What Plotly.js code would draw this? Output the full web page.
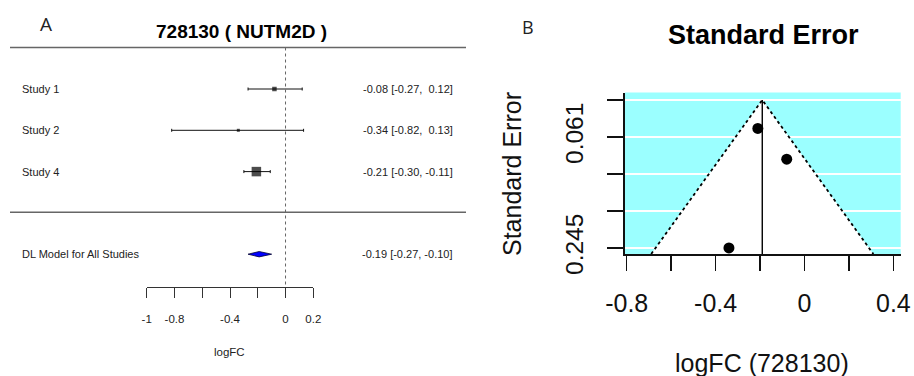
<!DOCTYPE html>
<html>
<head>
<meta charset="utf-8">
<script src="https://cdn.plot.ly/plotly-3.0.1.min.js"></script>
<style>html,body{margin:0;padding:0;background:#fff;}#chart{width:914px;height:376px;}</style>
</head>
<body>
<div id="chart"></div>
<script>
// ---- data ----
const studies = ['Study 1', 'Study 2', 'Study 4'];
const est = [-0.08, -0.34, -0.21];
const ciLo = [-0.27, -0.82, -0.30];
const ciHi = [0.12, 0.13, -0.11];
const seVals = [0.098, 0.245, 0.047];
const modelLabel = 'DL Model for All Studies';
const modelEst = -0.19;
const modelLo = -0.27;
const modelHi = -0.10;
const forestTicks = [-1, -0.8, -0.6, -0.4, -0.2, 0, 0.2];
const forestTickText = ['-1', '-0.8', '', '-0.4', '', '0', '0.2'];
const funnelXTicks = [-0.8, -0.6, -0.4, -0.2, 0, 0.2, 0.4];
const funnelXTickText = ['-0.8', '', '-0.4', '', '0', '', '0.4'];
const funnelYTickText = ['', '0.061', '', '', '0.245'];
const geneTitle = '728130 ( NUTM2D )';
const funnelTitle = 'Standard Error';
const funnelXTitle = 'logFC (728130)';
const funnelYTitle = 'Standard Error';
const forestXTitle = 'logFC';

// ---- helpers ----
const W = 914, H = 376;
const px = x => x / W;
const py = y => 1 - y / H;
const f2 = v => v.toFixed(2);
const pad = v => (v >= 0 ? '\u00a0' : '') + f2(v);
const ciText = (e, l, h) => f2(e) + ' [' + pad(l) + ',\u00a0' + pad(h) + ']';

const rows = studies.map((s, i) => i + 1);
const modelRow = studies.length + 2;

const FONT = 'Liberation Sans, Arial, sans-serif';

// funnel scale
const maxSE = Math.max(...seVals);
const funnelYTicks = [0, 1, 2, 3, 4].map(i => maxSE * i / 4);
const seBottom = 0.2550;
const seTop = -0.0124;

const traces = [];

// forest: study CIs
traces.push({
  type: 'scatter', mode: 'markers', xaxis: 'x', yaxis: 'y',
  x: est, y: rows,
  error_x: {
    type: 'data', symmetric: false,
    array: est.map((e, i) => ciHi[i] - e),
    arrayminus: est.map((e, i) => e - ciLo[i]),
    color: '#111', thickness: 1, width: 1.5
  },
  marker: {symbol: 'square', color: '#000', size: [4.5, 3, 9.5], line: {width: 0}},
  cliponaxis: false, hoverinfo: 'skip'
});
// forest: diamond
const dh = 0.065;
traces.push({
  type: 'scatter', mode: 'lines', xaxis: 'x', yaxis: 'y',
  x: [modelLo, modelEst, modelHi, modelEst, modelLo],
  y: [modelRow, modelRow - dh, modelRow, modelRow + dh, modelRow],
  fill: 'toself', fillcolor: '#0000ff',
  line: {color: '#000033', width: 0.8}, hoverinfo: 'skip'
});

// funnel: white triangle
const halfW = 1.96 * seBottom;
traces.push({
  type: 'scatter', mode: 'lines', xaxis: 'x2', yaxis: 'y2',
  x: [modelEst - halfW, modelEst, modelEst + halfW, modelEst - halfW],
  y: [seBottom, 0, seBottom, seBottom],
  fill: 'toself', fillcolor: '#ffffff', line: {width: 0}, hoverinfo: 'skip'
});
// funnel: dotted edges
traces.push({
  type: 'scatter', mode: 'lines', xaxis: 'x2', yaxis: 'y2',
  x: [modelEst - halfW, modelEst, modelEst + halfW],
  y: [seBottom, 0, seBottom],
  line: {color: '#000', width: 1.8, dash: 'dot'}, hoverinfo: 'skip'
});
// funnel: vertical estimate line
traces.push({
  type: 'scatter', mode: 'lines', xaxis: 'x2', yaxis: 'y2',
  x: [modelEst, modelEst], y: [0, seBottom],
  line: {color: '#000', width: 1.4}, hoverinfo: 'skip'
});
// funnel: points
traces.push({
  type: 'scatter', mode: 'markers', xaxis: 'x2', yaxis: 'y2',
  x: est, y: seVals,
  marker: {symbol: 'circle', color: '#000', size: 11},
  cliponaxis: false, hoverinfo: 'skip'
});

const annotations = [];
const ann = (text, x, y, opts) => annotations.push(Object.assign({
  text: text, x: px(x), y: py(y), xref: 'paper', yref: 'paper',
  showarrow: false, xanchor: 'center', yanchor: 'middle',
  font: {family: FONT, size: 11, color: '#222'}
}, opts || {}));

ann('A', 46, 24, {font: {family: 'Open Sans, sans-serif', size: 19, color: '#222'}});
ann('B', 527.7, 27, {font: {family: 'Open Sans, sans-serif', size: 18, color: '#222'}});
ann('<b>' + geneTitle + '</b>', 241, 31.5, {font: {family: FONT, size: 19, color: '#000'}});
ann('<b>' + funnelTitle + '</b>', 763, 34.5, {font: {family: FONT, size: 27, color: '#000'}});
ann(funnelXTitle, 762, 362.5, {font: {family: FONT, size: 25, color: '#111'}});
ann(funnelYTitle, 512, 174, {textangle: -90, font: {family: FONT, size: 25, color: '#111'}});
ann(forestXTitle, 230, 352, {font: {family: FONT, size: 11.5, color: '#222'}});

studies.forEach((s, i) => {
  annotations.push({text: s, x: px(20), y: rows[i], xref: 'paper', yref: 'y',
    xanchor: 'left', yanchor: 'middle', showarrow: false,
    font: {family: FONT, size: 11, color: '#222'}});
  annotations.push({text: ciText(est[i], ciLo[i], ciHi[i]), x: px(455), y: rows[i],
    xref: 'paper', yref: 'y', xanchor: 'right', yanchor: 'middle', showarrow: false,
    font: {family: FONT, size: 11, color: '#222'}});
});
annotations.push({text: modelLabel, x: px(20), y: modelRow, xref: 'paper', yref: 'y',
  xanchor: 'left', yanchor: 'middle', showarrow: false,
  font: {family: FONT, size: 11, color: '#222'}});
annotations.push({text: ciText(modelEst, modelLo, modelHi), x: px(455), y: modelRow,
  xref: 'paper', yref: 'y', xanchor: 'right', yanchor: 'middle', showarrow: false,
  font: {family: FONT, size: 11, color: '#222'}});

const shapes = [
  // cyan funnel background
  {type: 'rect', xref: 'x2 domain', yref: 'y2 domain', x0: 0, x1: 1, y0: 0, y1: 1,
   fillcolor: '#9bffff', line: {width: 0}, layer: 'below'},
  // forest rules
  {type: 'line', xref: 'paper', yref: 'paper', x0: px(10), x1: px(466), y0: py(47.5), y1: py(47.5),
   line: {color: '#666', width: 1.4}},
  {type: 'line', xref: 'paper', yref: 'paper', x0: px(10), x1: px(466), y0: py(212.3), y1: py(212.3),
   line: {color: '#666', width: 1.4}},
  // forest null line
  {type: 'line', xref: 'x', yref: 'paper', x0: 0, x1: 0, y0: py(47.5), y1: py(286.7),
   line: {color: '#666', width: 1, dash: 'dot'}}
];

const layout = {
  width: W, height: H,
  margin: {l: 0, r: 0, t: 0, b: 0},
  paper_bgcolor: '#fff', plot_bgcolor: 'rgba(0,0,0,0)',
  showlegend: false,
  xaxis: {
    domain: [px(146.7), px(313.3)], range: [-1, 0.2], anchor: 'free', position: py(286.7),
    showgrid: false, zeroline: false, showline: true, linecolor: '#333', linewidth: 1,
    ticks: 'outside', ticklen: 10.5, tickwidth: 1, tickcolor: '#333',
    tickvals: forestTicks, ticktext: forestTickText, ticklabelstandoff: 11,
    tickfont: {family: FONT, size: 11.5, color: '#222'}
  },
  yaxis: {
    domain: [0, 1], range: [7.949, -1.155], visible: false, anchor: 'x'
  },
  xaxis2: {
    domain: [px(625), px(900.7)], range: [-0.8077, 0.4329], anchor: 'y2',
    showgrid: false, zeroline: false, showline: true, linecolor: '#111', linewidth: 1.6,
    ticks: 'outside', ticklen: 15, tickwidth: 1.5, tickcolor: '#111',
    tickvals: funnelXTicks, ticktext: funnelXTickText, ticklabelstandoff: 11,
    tickfont: {family: FONT, size: 25, color: '#111'}
  },
  yaxis2: {
    domain: [py(254), py(92.5)], range: [seBottom, seTop], anchor: 'x2',
    showgrid: true, gridcolor: '#ffffff', gridwidth: 1.6, zeroline: false,
    showline: true, linecolor: '#111', linewidth: 1.6,
    ticks: 'outside', ticklen: 16.5, tickwidth: 1.5, tickcolor: '#111',
    tickvals: funnelYTicks, ticktext: funnelYTickText, tickangle: -90, ticklabelstandoff: 14,
    tickfont: {family: FONT, size: 24.5, color: '#111'}
  },
  shapes: shapes,
  annotations: annotations
};

Plotly.newPlot('chart', traces, layout, {staticPlot: true, displayModeBar: false});
</script>
</body>
</html>
